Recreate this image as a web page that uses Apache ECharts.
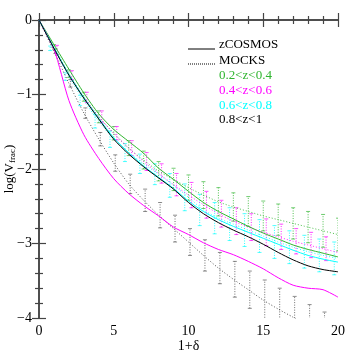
<!DOCTYPE html>
<html>
<head>
<meta charset="utf-8">
<script src="https://cdn.jsdelivr.net/npm/echarts@6/dist/echarts.min.js"></script>
<style>
  html, body { margin: 0; padding: 0; background: #fff; }
  #chart { width: 357px; height: 357px; }
</style>
</head>
<body>
<div id="chart"></div>
<script>
// 1+delta grid
const delta = [0, 1, 2, 3, 4, 5, 6, 7, 8, 9, 10, 11, 12, 13, 14, 15, 16, 17, 18, 19, 20]

// zCOSMOS (solid)
const zcGreen   = [0, -0.33, -0.66, -0.98, -1.26, -1.47, -1.63, -1.79, -1.99, -2.14, -2.30, -2.45, -2.57, -2.67, -2.77, -2.86, -2.94, -3.02, -3.08, -3.13, -3.18]
const zcMagenta = [0, -0.39, -1.08, -1.54, -1.86, -2.13, -2.33, -2.49, -2.63, -2.78, -2.88, -2.99, -3.08, -3.15, -3.24, -3.34, -3.46, -3.56, -3.60, -3.62, -3.72]
const zcCyan    = [0, -0.37, -0.73, -1.04, -1.32, -1.58, -1.78, -1.96, -2.11, -2.26, -2.43, -2.57, -2.68, -2.77, -2.85, -2.93, -3.01, -3.09, -3.16, -3.21, -3.25]
const zcBlack   = [0, -0.38, -0.74, -1.05, -1.33, -1.60, -1.80, -1.97, -2.12, -2.27, -2.45, -2.60, -2.72, -2.82, -2.91, -3.01, -3.12, -3.22, -3.30, -3.35, -3.38]

// MOCKS (dotted) with errors
const mkGreen   = [0, -0.36, -0.72, -1.03, -1.30, -1.52, -1.72, -1.88, -2.03, -2.14, -2.25, -2.35, -2.44, -2.51, -2.57, -2.63, -2.68, -2.73, -2.78, -2.83, -2.88]
const mkMagenta = [0, -0.40, -0.74, -1.04, -1.30, -1.52, -1.72, -1.90, -2.06, -2.21, -2.35, -2.48, -2.60, -2.70, -2.78, -2.85, -2.91, -2.97, -3.02, -3.07, -3.12]
const mkCyan    = [0, -0.38, -0.76, -1.08, -1.36, -1.60, -1.78, -1.93, -2.07, -2.22, -2.38, -2.55, -2.66, -2.74, -2.82, -2.90, -2.98, -3.05, -3.11, -3.16, -3.20]
const mkBlack   = [0, -0.42, -0.85, -1.25, -1.60, -1.92, -2.20, -2.42, -2.62, -2.80, -2.98, -3.16, -3.33, -3.48, -3.62, -3.76, -3.88, -3.99, -4.10, -4.20, -4.30]

const errGreen   = [0, 0.03, 0.05, 0.06, 0.08, 0.09, 0.10, 0.12, 0.13, 0.15, 0.17, 0.18, 0.19, 0.19, 0.20, 0.20, 0.21, 0.21, 0.21, 0.22, 0.22]
const errMagenta = [0, 0.06, 0.06, 0.07, 0.08, 0.09, 0.10, 0.12, 0.13, 0.15, 0.17, 0.18, 0.18, 0.18, 0.18, 0.18, 0.17, 0.17, 0.17, 0.16, 0.16]
const errCyan    = [0, 0.03, 0.05, 0.07, 0.09, 0.11, 0.12, 0.13, 0.14, 0.16, 0.18, 0.21, 0.21, 0.22, 0.22, 0.22, 0.22, 0.22, 0.22, 0.22, 0.22]
const errBlack   = [0, 0.03, 0.05, 0.07, 0.09, 0.11, 0.13, 0.15, 0.17, 0.18, 0.18, 0.21, 0.21, 0.24, 0.25, 0.27, 0.28, 0.28, 0.28, 0.28, 0.28]

const xTicks = [0, 5, 10, 15, 20]
const yTicks = [0, -1, -2, -3, -4]

const GREEN = '#2fb52f'
const MAGENTA = '#ff00ff'
const CYAN = '#00ffff'
const BLACK = '#000000'
const FONT = '"Liberation Serif", "DejaVu Serif", serif'

function pairs(ys) {
  return delta.map((x, i) => [x, ys[i]])
}

function solid(name, ys, color) {
  return {
    name: name, type: 'line', data: pairs(ys), smooth: 0.25, symbol: 'none', clip: true,
    lineStyle: { color: color, width: 1 }, z: 4
  }
}

function dotted(name, ys, color) {
  return {
    name: name, type: 'line', data: pairs(ys), smooth: 0.25, symbol: 'none', clip: true,
    lineStyle: { color: color, width: 1, type: [1, 2], opacity: 0.85 }, z: 3
  }
}

// error bars drawn via custom series, shifted a little in x like the original
function errBars(name, ys, errs, color, shift) {
  const data = []
  delta.forEach((x, i) => {
    if (errs[i] > 0) data.push([x + shift, ys[i] - errs[i], ys[i] + errs[i]])
  })
  return {
    name: name, type: 'custom', data: data, clip: true, z: 2,
    renderItem: function (params, api) {
      const lo = api.coord([api.value(0), api.value(1)])
      const hi = api.coord([api.value(0), api.value(2)])
      const cap = 2
      const st = { stroke: color, lineWidth: 1, lineDash: [1, 1.5], opacity: 0.85 }
      const cs = { stroke: color, lineWidth: 0.8, opacity: 0.85 }
      return {
        type: 'group',
        children: [
          { type: 'line', shape: { x1: lo[0], y1: lo[1], x2: hi[0], y2: hi[1] }, style: st },
          { type: 'line', shape: { x1: lo[0] - cap, y1: lo[1], x2: lo[0] + cap, y2: lo[1] }, style: cs },
          { type: 'line', shape: { x1: hi[0] - cap, y1: hi[1], x2: hi[0] + cap, y2: hi[1] }, style: cs }
        ]
      }
    }
  }
}

const axisLine = { show: true, lineStyle: { color: '#444', width: 1.5 } }
const majorTick = { show: true, inside: true, length: 7, lineStyle: { color: '#444', width: 1.2 } }
const minorTick = { show: true, splitNumber: 5, length: 4, lineStyle: { color: '#444', width: 1.2 } }
const tickLabel = { fontFamily: FONT, fontSize: 14, color: '#000' }

const chart = echarts.init(document.getElementById('chart'))

const option = {
  animation: false,
  grid: { left: 39, right: 19, top: 20, bottom: 39, containLabel: false, outerBoundsMode: 'none' },
  xAxis: [
    {
      type: 'value', min: 0, max: 20, interval: 5, position: 'bottom',
      name: '1+δ', nameLocation: 'middle', nameGap: 21, nameMoveOverlap: false,
      nameTextStyle: { fontFamily: FONT, fontSize: 14, color: '#000' },
      axisLine: axisLine, axisTick: majorTick, minorTick: minorTick,
      splitLine: { show: false },
      axisLabel: Object.assign({ margin: 6, formatter: v => xTicks.includes(v) ? String(v) : '' }, tickLabel)
    },
    {
      type: 'value', min: 0, max: 20, interval: 5, position: 'top',
      axisLine: axisLine, axisTick: majorTick, minorTick: minorTick,
      splitLine: { show: false }, axisLabel: { show: false }
    }
  ],
  yAxis: [
    {
      type: 'value', min: -4, max: 0, interval: 1, position: 'left',
      name: 'log(V{sub|frac})', nameLocation: 'middle', nameGap: 23, nameRotate: 90, nameMoveOverlap: false,
      nameTextStyle: {
        fontFamily: FONT, fontSize: 13, color: '#000',
        rich: { sub: { fontFamily: FONT, fontSize: 9, color: '#000', padding: [0, 0, -6, 0] } }
      },
      axisLine: axisLine, axisTick: majorTick, minorTick: minorTick,
      splitLine: { show: false },
      axisLabel: Object.assign({ margin: 7, formatter: v => yTicks.includes(v) ? String(v).replace('-', '\u2212') : '' }, tickLabel)
    },
    {
      type: 'value', min: -4, max: 0, interval: 1, position: 'right',
      axisLine: axisLine, axisTick: majorTick, minorTick: minorTick,
      splitLine: { show: false }, axisLabel: { show: false }
    }
  ],
  series: [
    errBars('errGreen', mkGreen, errGreen, GREEN, 0),
    errBars('errMagenta', mkMagenta, errMagenta, MAGENTA, 0.2),
    errBars('errCyan', mkCyan, errCyan, CYAN, -0.25),
    errBars('errBlack', mkBlack, errBlack, '#555', 0.1),
    dotted('mkGreen', mkGreen, GREEN),
    dotted('mkMagenta', mkMagenta, MAGENTA),
    dotted('mkCyan', mkCyan, CYAN),
    dotted('mkBlack', mkBlack, '#333'),
    solid('zcGreen', zcGreen, GREEN),
    solid('zcMagenta', zcMagenta, MAGENTA),
    solid('zcCyan', zcCyan, CYAN),
    solid('zcBlack', zcBlack, BLACK)
  ],
  graphic: [
    { type: 'line', shape: { x1: 188, y1: 49, x2: 215, y2: 49 }, style: { stroke: '#000', lineWidth: 1 } },
    { type: 'line', shape: { x1: 188, y1: 64, x2: 215, y2: 64 }, style: { stroke: '#000', lineWidth: 1, lineDash: [1, 1] } },
    { type: 'text', left: 219, top: 38, style: { text: 'zCOSMOS', fill: '#000', font: '13px ' + FONT } },
    { type: 'text', left: 219, top: 54, style: { text: 'MOCKS', fill: '#000', font: '13px ' + FONT } },
    { type: 'text', left: 219, top: 69, style: { text: '0.2<z<0.4', fill: GREEN, font: '13px ' + FONT } },
    { type: 'text', left: 219, top: 84, style: { text: '0.4<z<0.6', fill: MAGENTA, font: '13px ' + FONT } },
    { type: 'text', left: 219, top: 99, style: { text: '0.6<z<0.8', fill: CYAN, font: '13px ' + FONT } },
    { type: 'text', left: 219, top: 113, style: { text: '0.8<z<1', fill: '#000', font: '13px ' + FONT } }
  ]
}

chart.setOption(option)
</script>
</body>
</html>
